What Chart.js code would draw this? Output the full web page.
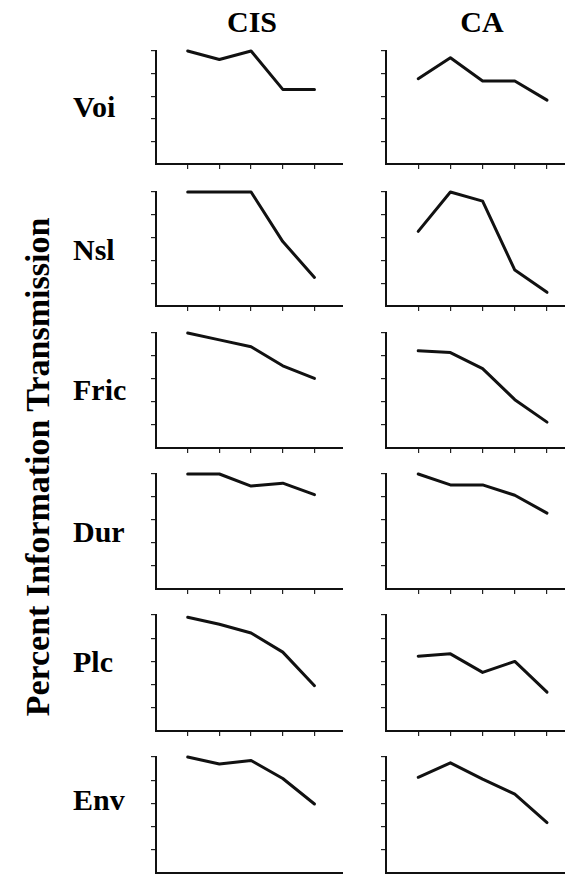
<!DOCTYPE html>
<html>
<head>
<meta charset="utf-8">
<script src="https://cdn.jsdelivr.net/npm/chart.js@4"></script>
<style>
  html, body { margin: 0; padding: 0; background: #fff; }
  body { width: 565px; height: 874px; position: relative; overflow: hidden; }
  canvas { position: absolute; }
  .txt { position: absolute; font-family: "Liberation Serif", "DejaVu Serif", serif; font-weight: bold; color: #000; line-height: 1; white-space: nowrap; }
</style>
</head>
<body>
<div class="txt" style="left:252px; top:22px; font-size:30px; transform:translate(-50%,-50%);">CIS</div>
<div class="txt" style="left:482px; top:22px; font-size:30px; transform:translate(-50%,-50%);">CA</div>
<div class="txt" style="left:38px; top:467px; font-size:34px; transform:translate(-50%,-50%) rotate(-90deg);">Percent Information Transmission</div>

<script>
// conditions (rows) and the two columns
const conditions = ['Voi', 'Nsl', 'Fric', 'Dur', 'Plc', 'Env'];
const columns = ['CIS', 'CA'];
const xTicks = [1, 2, 3, 4, 5];
const yTicks = [20, 40, 60, 80, 100];

// percent information transmission
const voiCIS = [100, 92.5, 100, 66, 66];
const voiCA = [75.5, 94, 73.5, 73.5, 56.5];
const nslCIS = [100, 100, 100, 56.5, 25];
const nslCA = [65.5, 100, 92, 31.5, 12];
const fricCIS = [100, 94, 88, 71.5, 60.5];
const fricCA = [84.5, 83, 69, 42, 22.5];
const durCIS = [100, 100, 89.5, 92, 82];
const durCA = [100, 90.5, 90.5, 81.5, 66];
const plcCIS = [98, 92, 84.5, 68, 39];
const plcCA = [64.5, 66.5, 50.5, 60, 33.5];
const envCIS = [100, 94, 97, 81.5, 59.5];
const envCA = [82.5, 95, 81, 68, 43.5];

const rows = [
    [voiCIS, voiCA],
    [nslCIS, nslCA],
    [fricCIS, fricCA],
    [durCIS, durCA],
    [plcCIS, plcCA],
    [envCIS, envCA],
];

// layout: pixel position of the 100 tick and the x axis for each row
const rowTop = [51, 192, 333, 474, 615, 757];
const rowAxis = [164, 306, 448, 589, 731, 873];
const labelY = [107, 250, 390, 532, 662, 800];
const colAxisX = [156, 386];
const colWidth = [187, 190];
const xMax = 5.9;
const tickLen = 5;
const pad = { left: 2, top: 4, right: 0, bottom: 2 };

rows.forEach((pair, r) => {
    // row label
    const lab = document.createElement('div');
    lab.className = 'txt';
    lab.textContent = conditions[r];
    lab.style.left = '73px';
    lab.style.top = labelY[r] + 'px';
    lab.style.fontSize = '30px';
    lab.style.transform = 'translateY(-50%)';
    document.body.appendChild(lab);

    pair.forEach((vals, c) => {
        const canvas = document.createElement('canvas');
        const h = rowAxis[r] - rowTop[r];
        const w = colWidth[c];
        canvas.width = pad.left + tickLen + w + pad.right;
        canvas.height = pad.top + h + tickLen + pad.bottom;
        canvas.style.left = (colAxisX[c] - tickLen - pad.left) + 'px';
        canvas.style.top = (rowTop[r] - pad.top) + 'px';
        document.body.appendChild(canvas);

        new Chart(canvas.getContext('2d'), {
            type: 'line',
            data: {
                datasets: [{
                    label: conditions[r] + ' ' + columns[c],
                    data: vals.map((v, i) => ({ x: xTicks[i], y: v })),
                    borderColor: '#111',
                    borderWidth: 3,
                    borderJoinStyle: 'round',
                    borderCapStyle: 'round',
                    pointRadius: 0,
                    tension: 0,
                    fill: false,
                    clip: false,
                }]
            },
            options: {
                responsive: false,
                animation: false,
                events: [],
                layout: { padding: pad },
                plugins: { legend: { display: false }, tooltip: { enabled: false } },
                scales: {
                    x: {
                        type: 'linear',
                        min: 0,
                        max: xMax,
                        afterBuildTicks: s => { s.ticks = xTicks.map(v => ({ value: v })); },
                        ticks: { display: false },
                        grid: { drawOnChartArea: false, drawTicks: true, tickLength: tickLen, color: '#222', lineWidth: 1.2 },
                        border: { display: true, color: '#111', width: 2 },
                    },
                    y: {
                        min: 0,
                        max: 100,
                        afterBuildTicks: s => { s.ticks = yTicks.map(v => ({ value: v })); },
                        ticks: { display: false },
                        grid: { drawOnChartArea: false, drawTicks: true, tickLength: tickLen, color: '#222', lineWidth: 1.2 },
                        border: { display: true, color: '#111', width: 2 },
                    }
                }
            }
        });
    });
});
</script>
</body>
</html>
